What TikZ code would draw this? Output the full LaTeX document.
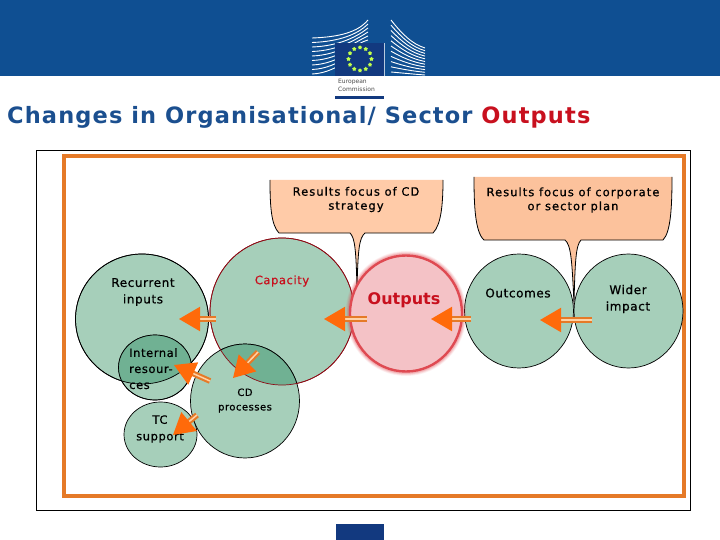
\documentclass[tikz,border=0pt]{standalone}
\usepackage{fontspec}
\setmainfont{DejaVu Sans}
\newfontfamily\heavyfont[FakeBold=0.7,LetterSpace=5]{DejaVu Sans}
\newfontfamily\spacedfont[FakeBold=0.7,LetterSpace=9]{DejaVu Sans}
\usetikzlibrary{arrows.meta,shapes.geometric}
\definecolor{ecblue}{HTML}{0F4F92}
\definecolor{titleblue}{HTML}{1B4F8F}
\definecolor{navy}{HTML}{12397F}
\definecolor{framerust}{HTML}{E57A28}
\definecolor{bubble}{HTML}{A6CFBA}
\definecolor{overlap}{HTML}{70B193}
\definecolor{tipcol}{HTML}{FF6A0A}
\definecolor{capred}{HTML}{C8101E}
\definecolor{calloutone}{HTML}{FFCBA8}
\definecolor{callouttwo}{HTML}{FCC29C}
\definecolor{outputfill}{HTML}{F4C2C6}
\definecolor{outputedge}{HTML}{DF4A52}
\tikzset{
    bubblenode/.style={ellipse,draw=black,fill=bubble,line width=0.7pt,inner sep=0pt},
    labeltext/.style={font=\heavyfont\fontsize{12}{13}\selectfont,text=black,inner sep=0pt,align=center},
    smalltext/.style={labeltext,font=\heavyfont\fontsize{11.5}{13}\selectfont},
    focustext/.style={labeltext,font=\spacedfont\fontsize{11.5}{13}\selectfont},
    calloutshape/.style={draw=black,line width=0.8pt},
    flowarrow/.style={draw=framerust,double=orange!35!white,line width=2.1pt,double distance=1.5pt,
        -{Triangle[length=21pt,width=24pt,color=tipcol]}}
}
\begin{document}
\begin{tikzpicture}[x=1pt,y=-1pt]
    \useasboundingbox (0,0) rectangle (720,540);

    % Header band
    \fill[ecblue] (0,0) rectangle (720,76);
    \foreach \i in {0,...,8} {
        \draw[white,line width=0.9pt] (312,38+\i*4.5) .. controls (340,37+\i*4.5) and (358,32+\i*2) .. (368,20+\i*4);
    }
    \foreach \i in {0,...,10} {
        \draw[white,line width=0.9pt] (391,20+\i*5.2) .. controls (402,34+\i*3.9) and (412,44+\i*3) .. (425,48+\i*2.7);
    }
    \fill[navy] (335,43) rectangle (384,76);
    \draw[white!70!ecblue,line width=0.7pt] (384,43) -- (384,76);
    \foreach \a in {0,30,...,330} {
        \node[star,star points=5,fill=green!35!yellow!70!white,inner sep=0pt,minimum size=4.5pt] at ([shift={(\a:11.5)}]360,59) {};
    }
    \node[anchor=west,inner sep=0pt,text=black!70,font=\fontsize{6}{7}\selectfont] (ecword) at (338,81.5) {European};
    \node[anchor=west,inner sep=0pt,text=black!70,font=\fontsize{6}{7}\selectfont] (comword) at (338,89.5) {Commission};
    \fill[navy] (335,96.5) rectangle (384,99);

    % Title
    \node[anchor=west,inner sep=0pt,text=titleblue,font=\bfseries\fontsize{22.5}{24}\selectfont] (title) at (7,117)
        {\addfontfeature{LetterSpace=5}Changes in Organisational/ Sector \textcolor{capred}{Outputs}};

    % Frames
    \node[draw=black,line width=0.5pt,minimum width=654pt,minimum height=360pt,inner sep=0pt] (outerframe) at (363,330) {};
    \node[draw=framerust,line width=4pt,minimum width=620pt,minimum height=340pt,inner sep=0pt] (innerframe) at (374,326) {};

    % Callouts
    \fill[calloutone] (270,180) .. controls (270,205) and (271,225) .. (279,233) -- (350,233)
        .. controls (355,238) and (356,250) .. (357,288)
        .. controls (358,250) and (359,238) .. (365,233) -- (433,233)
        .. controls (441,225) and (443,205) .. (443,180) -- cycle;
    \draw[calloutshape] (270,180) .. controls (270,205) and (271,225) .. (279,233) -- (350,233)
        .. controls (355,238) and (356,250) .. (357,288)
        .. controls (358,250) and (359,238) .. (365,233) -- (433,233)
        .. controls (441,225) and (443,205) .. (443,180);
    \fill[callouttwo] (474,177) .. controls (474,205) and (475,232) .. (484,240) -- (565,240)
        .. controls (571,245) and (572,260) .. (574,304)
        .. controls (575,260) and (576,245) .. (581,240) -- (663,240)
        .. controls (671,232) and (672,205) .. (672,177) -- cycle;
    \draw[calloutshape] (474,177) .. controls (474,205) and (475,232) .. (484,240) -- (565,240)
        .. controls (571,245) and (572,260) .. (574,304)
        .. controls (575,260) and (576,245) .. (581,240) -- (663,240)
        .. controls (671,232) and (672,205) .. (672,177);

    % Bubbles
    \node[bubblenode,draw=capred!70!black,minimum width=144pt,minimum height=147pt] (capacity) at (282,311.5) {};
    \node[bubblenode,minimum width=133pt,minimum height=130pt] (recurrent) at (142,319) {};
    \node[bubblenode,minimum width=109pt,minimum height=114pt] (cdproc) at (245,401) {};
    \node[bubblenode,minimum width=73pt,minimum height=65pt] (internal) at (155,367.5) {};
    \node[bubblenode,minimum width=73pt,minimum height=65pt] (tcsupport) at (160.5,434.5) {};
    \node[bubblenode,minimum width=109pt,minimum height=114pt] (outcomes) at (519,311) {};
    \node[bubblenode,minimum width=109pt,minimum height=114pt] (wider) at (628.5,311) {};

    % Overlaps
    \begin{scope}
        \clip (282,311.5) ellipse (72 and 73.5);
        \fill[overlap,draw=black,line width=0.7pt] (245,401) ellipse (54.5 and 57);
    \end{scope}
    \begin{scope}
        \clip (142,319) ellipse (66.5 and 65);
        \fill[overlap] (155,367.5) ellipse (36.5 and 32.5);
    \end{scope}
    \draw[capred!70!black,line width=0.7pt] (282,311.5) ellipse (72 and 73.5);
    \draw[black,line width=0.7pt] (142,319) ellipse (66.5 and 65);
    \draw[black,line width=0.7pt] (155,367.5) ellipse (36.5 and 32.5);

    % Outputs glow
    \foreach \w/\o in {9/0.08,7.5/0.1,6/0.14,4.5/0.2} {
        \draw[outputedge,opacity=\o,line width=\w pt] (406,313.5) ellipse (56 and 58);
    }
    \node[ellipse,fill=outputfill,draw=outputedge,line width=2.4pt,inner sep=0pt,
        minimum width=112pt,minimum height=116pt] (outputs) at (406,313.5) {};

    % Labels
    \node[focustext] (lblfocusa) at (356,199.5) {Results focus of CD\\[1pt]strategy};
    \node[focustext] (lblfocusb) at (573,200) {Results focus of corporate\\[1pt]or sector plan};
    \node[labeltext] (lblrecurrent) at (143,292) {Recurrent\\[3.5pt]inputs};
    \node[labeltext,text=capred,font=\heavyfont\fontsize{11.5}{13}\selectfont] (lblcapacity) at (282,281) {Capacity};
    \node[inner sep=0pt,text=capred,font=\bfseries\fontsize{16}{18}\selectfont] (lbloutputs) at (404,300) {Outputs};
    \node[labeltext] (lbloutcomes) at (518,293) {Outcomes};
    \node[labeltext] (lblwider) at (628,299) {Wider\\[3.5pt]impact};
    \node[smalltext,align=left,anchor=north west] (lblinternal) at (129,348) {Internal\\[3pt]resour-\\[3pt]ces};
    \node[labeltext,font=\heavyfont\fontsize{10}{12}\selectfont] (lblcd) at (245,400.5) {CD\\[2.5pt]processes};
    \node[smalltext] (lbltc) at (160,429) {TC\\[3.5pt]support};

    % Arrows
    \foreach \name/\xa/\ya/\xb/\yb in {a/216/319/179/319, b/367/319/324/319, c/471/319/431/319,
        d/592/320/540/320, e/258/352/233/378, f/210/381/174/365, g/197/415/173/435} {
        \coordinate (from\name) at (\xa,\ya);
        \coordinate (to\name) at (\xb,\yb);
        \draw[flowarrow] (from\name) -- (to\name);
    }

    % Footer
    \fill[navy] (336,524) rectangle (384,540);
\end{tikzpicture}
\end{document}
